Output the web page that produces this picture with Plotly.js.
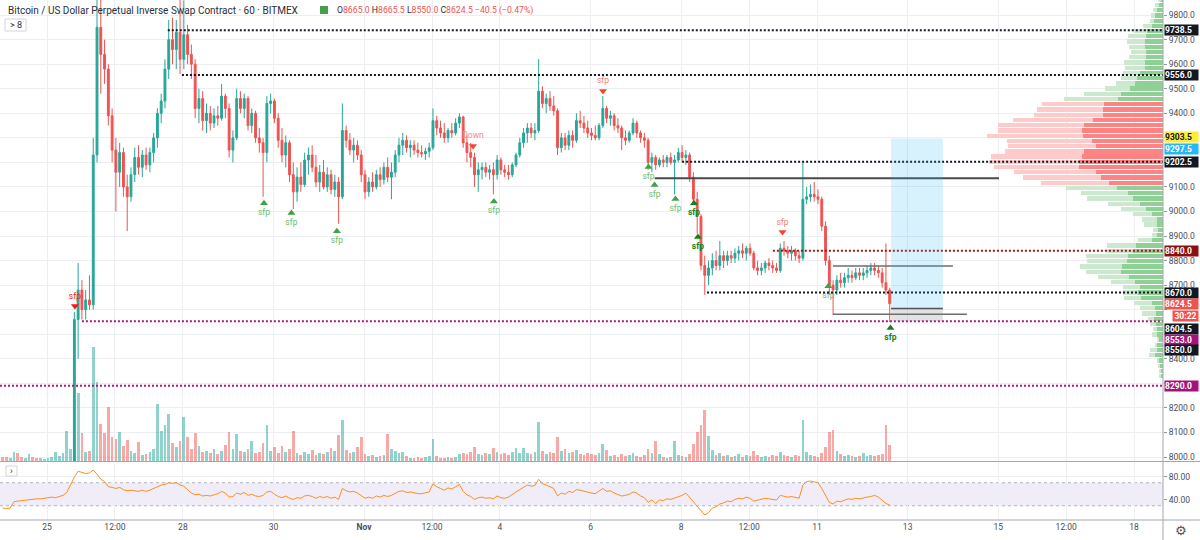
<!DOCTYPE html>
<html>
<head>
<meta charset="utf-8">
<script src="https://cdn.plot.ly/plotly-3.0.1.min.js"></script>
<style>
html,body{margin:0;padding:0;background:#ffffff;overflow:hidden;}
#chart{width:1200px;height:540px;}
</style>
</head>
<body>
<div id="chart"></div>
<script>
// ================= DATA =================
const SERIES_START = '2019-10-24T00:00:00Z';
const BAR_HOURS = 2;

const opens = [
7470,7460,7430,7450,7470,7420,7390,7410,7430,7420,7400,7410,7420,7440,7450,7460,7470,7500,7540,7650,
8560,8680,8600,8640,8620,9230,9750,9640,9580,9390,
9250,9160,9240,9100,9060,9150,9220,9180,9230,9190,
9240,9300,9400,9450,9580,9700,9660,9730,9620,9720,
9640,9600,9420,9460,9370,9400,9360,9390,9380,9470,
9420,9250,9300,9460,9420,9460,9350,9400,9300,9280,
9240,9440,9450,9380,9290,9230,9280,9150,9080,9140,
9110,9210,9230,9180,9120,9160,9100,9150,9090,9120,
9060,9330,9290,9250,9270,9230,9150,9080,9120,9100,
9150,9130,9180,9140,9160,9230,9270,9290,9260,9270,
9250,9240,9235,9245,9260,9370,9340,9320,9300,9330,
9320,9360,9385,9280,9240,9220,9150,9170,9180,9160,
9170,9150,9210,9170,9160,9150,9190,9230,9280,9320,
9340,9320,9330,9490,9440,9460,9430,9410,9260,9300,
9270,9310,9290,9370,9360,9340,9320,9310,9300,9350,
9420,9380,9390,9350,9340,9300,9290,9320,9360,9320,
9300,9290,9200,9220,9190,9210,9200,9220,9200,9210,
9240,9220,9230,9140,9050,8980,8780,8740,8770,8800,
8780,8820,8800,8820,8810,8830,8840,8830,8850,8830,
8770,8760,8770,8790,8780,8770,8760,8850,8840,8830,
8840,8820,8810,9050,9060,9070,9060,9050,8940,8800,
8700,8680,8720,8710,8730,8740,8730,8750,8740,8750,
8760,8770,8760,8750,8710,8680];

const highs = [
7500,7480,7470,7490,7480,7440,7430,7450,7460,7440,7430,7440,7460,7470,7480,7490,7520,7560,7700,8590,
8790,8720,8680,8740,9300,10350,9900,9700,9600,9420,
9300,9280,9260,9150,9180,9260,9270,9250,9260,9260,
9320,9420,9480,9620,9780,9790,9780,9900,9860,9760,
9680,9620,9500,9490,9440,9430,9420,9430,9520,9480,
9440,9330,9500,9490,9480,9470,9420,9410,9340,9300,
9470,9480,9460,9400,9340,9310,9290,9200,9180,9200,
9240,9260,9270,9230,9190,9210,9180,9170,9150,9140,
9440,9350,9320,9300,9290,9250,9170,9140,9160,9170,
9180,9200,9220,9200,9250,9300,9320,9310,9290,9290,
9280,9270,9260,9280,9420,9390,9370,9360,9340,9360,
9380,9400,9390,9310,9280,9240,9200,9200,9200,9190,
9200,9230,9220,9190,9190,9200,9240,9300,9340,9360,
9360,9360,9620,9510,9480,9490,9470,9420,9320,9320,
9330,9330,9400,9410,9390,9370,9340,9350,9360,9470,
9430,9410,9400,9380,9350,9330,9330,9380,9370,9330,
9320,9300,9240,9230,9220,9230,9230,9240,9230,9260,
9270,9250,9240,9160,9080,8990,8820,8800,8830,8840,
8880,8840,8840,8840,8850,8860,8870,8860,8870,8840,
8800,8790,8800,8810,8800,8790,8870,8880,8860,8860,
8850,8840,9200,9100,9110,9120,9090,9060,8960,8820,
8720,8740,8750,8750,8770,8760,8770,8770,8770,8780,
8790,8790,8780,8770,8870,8690];

const lows = [
7440,7420,7410,7430,7400,7360,7370,7390,7400,7380,7380,7390,7400,7420,7430,7440,7450,7480,7520,7640,
8400,8560,8560,8600,8600,9200,9480,9520,9350,9200,
9000,9100,9060,8920,9040,9120,9150,9140,9170,9160,
9200,9260,9360,9420,9540,9600,9580,9560,9580,9600,
9540,9380,9360,9330,9320,9330,9340,9350,9370,9380,
9220,9200,9290,9400,9380,9330,9320,9280,9240,9060,
9200,9400,9360,9260,9200,9180,9120,9010,9040,9080,
9100,9150,9160,9100,9080,9090,9080,9070,9060,8950,
9050,9260,9230,9200,9210,9120,9050,9060,9080,9090,
9100,9110,9120,9050,9140,9200,9230,9240,9220,9230,
9220,9220,9210,9220,9250,9310,9300,9280,9280,9300,
9310,9340,9260,9200,9180,9100,9080,9130,9140,9130,
9070,9130,9150,9140,9130,9140,9180,9220,9260,9280,
9300,9290,9320,9420,9400,9410,9390,9230,9240,9250,
9250,9260,9280,9340,9320,9300,9290,9290,9290,9340,
9360,9350,9330,9320,9250,9270,9280,9310,9300,9280,
9260,9170,9160,9170,9180,9180,9180,9190,9070,9200,
9200,9190,9120,9040,8910,8760,8660,8700,8740,8760,
8760,8770,8780,8790,8790,8800,8810,8800,8820,8760,
8740,8740,8750,8760,8750,8750,8750,8820,8810,8800,
8800,8790,8800,9030,9040,9040,9030,8920,8780,8660,
8580,8660,8690,8690,8710,8710,8720,8720,8720,8730,
8740,8740,8730,8690,8660,8550];

const closes = [
7460,7430,7450,7470,7420,7390,7410,7430,7420,7400,7410,7420,7440,7450,7460,7470,7500,7540,7650,8560,
8680,8600,8640,8620,9230,9750,9640,9580,9390,9250,
9160,9240,9100,9060,9150,9220,9180,9230,9190,9240,
9300,9400,9450,9580,9700,9660,9730,9620,9720,9640,
9600,9420,9460,9370,9400,9360,9390,9380,9470,9420,
9250,9300,9460,9420,9460,9350,9400,9300,9280,9240,
9440,9450,9380,9290,9230,9280,9150,9080,9140,9110,
9210,9230,9180,9120,9160,9100,9150,9090,9120,9060,
9330,9290,9250,9270,9230,9150,9080,9120,9100,9150,
9130,9180,9140,9160,9230,9270,9290,9260,9270,9250,
9240,9235,9245,9260,9370,9340,9320,9300,9330,9320,
9360,9385,9280,9240,9220,9150,9170,9180,9160,9170,
9150,9210,9170,9160,9150,9190,9230,9280,9320,9340,
9320,9330,9490,9440,9460,9430,9410,9260,9300,9270,
9310,9290,9370,9360,9340,9320,9310,9300,9350,9420,
9380,9390,9350,9340,9300,9290,9320,9360,9320,9300,
9290,9200,9220,9190,9210,9200,9220,9200,9210,9240,
9220,9230,9140,9050,8980,8780,8740,8770,8800,8780,
8820,8800,8820,8810,8830,8840,8830,8850,8830,8770,
8760,8770,8790,8780,8770,8760,8850,8840,8830,8840,
8820,8810,9050,9060,9070,9060,9050,8940,8800,8700,
8680,8720,8710,8730,8740,8730,8750,8740,8750,8760,
8770,8760,8750,8710,8680,8624.5];

// volume, x10M contracts
const volumes = [
4,4,3,9,8,4,3,7,4,3,3,2,3,4,9,5,8,30,12,14,
68,28,9,10,114,79,37,28,54,24,
22,29,15,21,10,8,19,6,7,9,
12,57,30,36,47,18,14,20,44,24,
12,28,15,9,10,8,12,7,10,16,
29,12,27,10,9,12,20,8,9,18,
36,10,14,8,15,9,12,30,8,6,
9,7,11,6,8,7,9,13,10,26,
41,11,8,9,14,24,7,5,6,4,
5,6,27,12,10,8,9,5,3,3,
4,3,4,5,22,5,3,3,4,3,
4,7,8,7,9,14,7,6,8,7,
13,9,7,8,6,9,13,8,13,8,
7,9,39,10,7,9,8,24,10,12,
8,9,11,7,6,8,7,6,8,17,
11,5,6,4,7,5,6,8,5,4,
6,12,8,20,7,4,3,4,20,6,
5,4,7,17,29,36,51,25,11,6,
8,5,6,4,5,7,4,6,5,10,
6,4,5,4,6,5,9,6,5,4,
6,5,41,9,6,5,4,8,14,29,
31,10,7,5,6,5,4,5,8,5,
6,5,6,7,36,16];

const rsi = [
26,25,26,37,38,39,40,41,41,42,42,43,44,45,44,46,48,53,68,80,
90,88,86,87,92,85,76,72,63,62,
60,62,58,56,57,56,55,57,55,57,
60,63,66,67,70,69,70,66,64,58,
52,49,50,47,48,47,49,51,55,52,
45,46,52,50,53,48,50,47,46,48,
54,55,50,46,44,47,43,41,44,43,
47,48,46,43,46,44,46,43,45,41,
60,56,54,55,52,47,43,45,43,47,
45,48,46,48,52,55,56,53,54,52,
51,51,52,54,68,63,60,57,61,59,
63,67,55,49,46,41,44,45,43,44,
42,47,44,43,45,50,54,58,62,66,
64,65,76,68,66,63,60,47,52,50,
55,53,58,57,55,53,52,51,55,60,
55,56,52,50,47,48,50,54,52,47,
44,36,40,34,40,39,42,41,43,46,
48,52,44,36,30,22,14,18,26,28,
33,35,38,37,41,43,42,45,43,38,
40,41,43,42,41,40,48,47,45,46,
44,43,66,72,73,72,70,60,48,36,
33,38,37,40,42,41,43,42,44,45,
46,48,45,40,34,31];

// visible-range volume profile (rows from top)
const VP_TOP_ROW = 9862.6;
const VP_ROW = 21.3;
const vpTotal = [5,8,10,12,13,20,29,35,36,34,32,34,39,38,40,42,47,58,79,99,
121,126,129,150,165,165,176,156,155,158,172,174,169,149,140,122,
97,82,76,55,42,30,21,19,10,11,25,56,57,77,76,83,77,65,52,40,40,39,29,23,21,15,13,10,11,6,8,13,14,6,5,4,4];
const vpUp = [2,4,6,8,9,11,16,17,18,18,17,17,18,18,23,26,28,33,42,45,
59,60,60,70,79,81,80,71,67,79,81,84,84,67,62,54,
46,35,30,23,17,11,6,6,5,6,11,27,30,35,36,41,42,34,28,23,25,22,11,8,7,9,7,6,6,4,6,6,8,4,3,2,2];
const VALUE_AREA = [9106, 9448];

const tickDates = ['2019-10-25','2019-10-26 12:00','2019-10-28','2019-10-30','2019-11-01','2019-11-02 12:00','2019-11-04','2019-11-06','2019-11-08','2019-11-09 12:00','2019-11-11','2019-11-13','2019-11-15','2019-11-16 12:00','2019-11-18'];
const tickLabels = ['25','12:00','28','30','<b>Nov</b>','12:00','4','6','8','12:00','11','13','15','12:00','18'];
const priceTicks = [8000,8100,8200,8300,8400,8500,8600,8700,8800,8900,9000,9100,9200,9300,9400,9500,9600,9700,9800];
// scale ticks whose text sits under a price label box
const coveredTicks = [8300,8500,8600,9200,9300];

// horizontal levels
const levelPrices = [9738.5, 9556.0, 9202.5, 8840.0, 8670.0, 8553.0, 8290.0];
const levelStarts = ['2019-10-27 16:00','2019-10-27 23:30','2019-11-08 00:30','2019-11-10 00:36','2019-11-08 13:42','2019-10-25 18:30','2019-10-23 23:06'];
const levelKinds  = ['black','black','black','red','black','magenta','magenta'];
const segPrices = [9135, 8778, 8581];
const segStarts = ['2019-11-07 10:00','2019-11-11 08:24','2019-11-11 08:24'];
const segEnds   = ['2019-11-15 00:24','2019-11-14 00:00','2019-11-14 07:24'];
// long position tool
const posEntry = 8604.5, posStop = 8553.0, posTarget = 9297.5;
const posStart = '2019-11-12 15:12', posEnd = '2019-11-13 18:42';

// sfp signals
const sfpTimes = ['2019-10-25 14:48','2019-10-29 18:58','2019-10-30 09:30','2019-10-31 09:36','2019-11-03 09:42','2019-11-03 20:48','2019-11-06 06:36','2019-11-07 06:42','2019-11-07 09:54','2019-11-07 21:00','2019-11-08 06:48','2019-11-08 08:54','2019-11-10 05:42','2019-11-11 06:00','2019-11-12 14:54'];
const sfpPrices = [8615,9034,8994,8920,9267,9041,9491,9181,9108,9051,9034,8896,8916,8696,8525];
const sfpKinds = ['bearStrong','bull','bull','bull','down','bull','bear','bull','bull','bull','bullStrong','bullStrong','bear','bull','bullStrong'];

// right-scale labels
const lblPrices = [9738.5, 9556.0, 9303.5, 9297.5, 9202.5, 8840.0, 8670.0, 8624.5, 8604.5, 8553.0, 8550.0, 8290.0];
const lblBg     = ['#131722','#131722','#ffeb3b','#29b6f6','#131722','#8b0f0f','#131722','#ef5350','#131722','#a3137a','#131722','#a3137a'];
const lblFg     = ['#fff','#fff','#131722','#fff','#fff','#fff','#fff','#fff','#fff','#fff','#fff','#fff'];
const lblShift  = [0,0,0,-10.5,0,0,0,0,-20.5,-19,-28,0];
const countdown = '30:22';
const lastBar = {o:8665.0, h:8665.5, l:8550.0, c:8624.5};

// ================= BUILD =================
const UP = '#26a69a', DN = '#ef5350';
const GRID = '#eceef2';
const t0 = Date.parse(SERIES_START);
function fmt(ms){ return new Date(ms).toISOString().slice(0,19).replace('T',' '); }
const times = closes.map((_, k) => fmt(t0 + (k*BAR_HOURS + 0.5)*3600000));
const X_START = '2019-10-23 23:06', X_END = '2019-11-18 15:18';

const W = 1163, H = 520;               // plot area in px
const px = x => x / W;
const py = y => (H - y) / H;
const MAIN_BOTTOM = py(461), RSI_TOP = py(463);

const traces = [];
traces.push({
  type:'candlestick', x:times, open:opens, high:highs, low:lows, close:closes,
  xaxis:'x', yaxis:'y', whiskerwidth:0, hoverinfo:'skip',
  increasing:{line:{color:UP,width:1}, fillcolor:UP},
  decreasing:{line:{color:DN,width:1}, fillcolor:DN}
});
traces.push({
  type:'bar', x:times, y:volumes, xaxis:'x', yaxis:'y2', hoverinfo:'skip',
  width: BAR_HOURS*3600000*0.72,
  marker:{color: closes.map((c,k)=> c>=opens[k] ? 'rgba(38,166,154,0.5)' : 'rgba(239,83,80,0.5)'), line:{width:0}}
});
traces.push({
  type:'scatter', mode:'lines', x:times, y:rsi, xaxis:'x', yaxis:'y3', hoverinfo:'skip',
  line:{color:'#ff8f1f', width:1}
});
// volume profile
const vpRows = vpTotal.map((_, n) => VP_TOP_ROW - n*VP_ROW);
const inVA = p => p >= VALUE_AREA[0] && p <= VALUE_AREA[1];
traces.push({
  type:'bar', orientation:'h', x:vpTotal, y:vpRows, xaxis:'x3', yaxis:'y', width:VP_ROW*0.82,
  hoverinfo:'skip', marker:{color: vpRows.map(p => inVA(p) ? '#ffcaca' : '#cce8ce'), line:{width:0}}
});
traces.push({
  type:'bar', orientation:'h', x:vpUp, y:vpRows, xaxis:'x3', yaxis:'y', width:VP_ROW*0.82,
  hoverinfo:'skip', marker:{color: vpRows.map(p => inVA(p) ? '#ff8383' : '#8fd095'), line:{width:0}}
});
// sfp markers
const sfpStyle = {
  bull:       {sym:'triangle-up',   mc:'#43a047', tc:'#6dbb70', pos:'bottom center', txt:'sfp', w:'normal'},
  bullStrong: {sym:'triangle-up',   mc:'#14821a', tc:'#14821a', pos:'bottom center', txt:'sfp', w:'bold'},
  bear:       {sym:'triangle-down', mc:'#f44336', tc:'#f08080', pos:'top center',    txt:'sfp', w:'normal'},
  bearStrong: {sym:'triangle-down', mc:'#ff1111', tc:'#ff1111', pos:'top center',    txt:'sfp', w:'normal'},
  down:       {sym:'triangle-down', mc:'#f44336', tc:'#f08c88', pos:'top center',    txt:'Down', w:'normal'}
};
Object.keys(sfpStyle).forEach(kind => {
  const idx = sfpKinds.map((k,i)=>k===kind?i:-1).filter(i=>i>=0);
  if (!idx.length) return;
  const s = sfpStyle[kind];
  traces.push({
    type:'scatter', mode:'markers+text', xaxis:'x', yaxis:'y', hoverinfo:'skip',
    x: idx.map(i=>sfpTimes[i]), y: idx.map(i=>sfpPrices[i]),
    text: idx.map(()=>s.txt), textposition:s.pos,
    textfont:{size:8.5, color:s.tc, weight:s.w},
    marker:{symbol:s.sym, size:7, color:s.mc, line:{width:0}},
    cliponaxis:false
  });
});

// shapes
const shapes = [];
shapes.push({type:'rect', xref:'paper', yref:'y3', x0:0, x1:1, y0:30, y1:70, fillcolor:'rgba(149,117,205,0.14)', line:{width:0}, layer:'below'});
[70,30].forEach(v => shapes.push({type:'line', xref:'paper', yref:'y3', x0:0, x1:1, y0:v, y1:v, line:{color:'#b2b5be', width:1, dash:'3px,3px'}, layer:'below'}));
const levelColor = {black:'#131722', red:'#a31515', magenta:'#b0187d'};
levelPrices.forEach((p,i) => shapes.push({type:'line', xref:'x', yref:'y', x0:levelStarts[i], x1:X_END, y0:p, y1:p,
  line:{color:levelColor[levelKinds[i]], width:2, dash:'2px,2px'}, layer:'above'}));
segPrices.forEach((p,i) => shapes.push({type:'line', xref:'x', yref:'y', x0:segStarts[i], x1:segEnds[i], y0:p, y1:p,
  line:{color: i===0 ? '#4a4a4a' : '#6d6d6d', width: i===0 ? 2 : 1.5}, layer:'above'}));
shapes.push({type:'rect', xref:'x', yref:'y', x0:posStart, x1:posEnd, y0:posEntry, y1:posTarget, fillcolor:'rgba(41,182,246,0.18)', line:{width:0}, layer:'above'});
shapes.push({type:'rect', xref:'x', yref:'y', x0:posStart, x1:posEnd, y0:posStop, y1:posEntry, fillcolor:'rgba(120,123,134,0.22)', line:{width:0}, layer:'above'});
shapes.push({type:'line', xref:'x', yref:'y', x0:posStart, x1:posEnd, y0:posEntry, y1:posEntry, line:{color:'#555', width:1.5}, layer:'above'});
// frame
const FR = '#a3a6af';
shapes.push({type:'line', xref:'paper', yref:'paper', x0:1, x1:1, y0:py(540), y1:1, line:{color:FR, width:1}});
shapes.push({type:'line', xref:'paper', yref:'paper', x0:0, x1:px(1200), y0:py(461.5), y1:py(461.5), line:{color:FR, width:1}});
shapes.push({type:'line', xref:'paper', yref:'paper', x0:0, x1:px(1200), y0:0, y1:0, line:{color:FR, width:1}});
// small ui boxes
shapes.push({type:'rect', xref:'paper', yref:'paper', x0:px(5), x1:px(26), y0:py(31), y1:py(19), fillcolor:'#fff', line:{color:'#d1d4dc', width:1}});
shapes.push({type:'rect', xref:'paper', yref:'paper', x0:px(6), x1:px(17), y0:py(476), y1:py(466), fillcolor:'#fff', line:{color:'#d1d4dc', width:1}});
shapes.push({type:'rect', xref:'paper', yref:'paper', x0:px(320), x1:px(328), y0:py(14), y1:py(6), fillcolor:'#43a047', line:{width:0}});

// annotations
const ann = [];
ann.push({xref:'paper', yref:'paper', x:px(6), y:py(10), xanchor:'left', yanchor:'middle', showarrow:false,
  text:'Bitcoin / US Dollar Perpetual Inverse Swap Contract · 60 · BITMEX', font:{size:10, color:'#2a2e39'}});
const chg = lastBar.c - lastBar.o, pct = chg / lastBar.o * 100;
const red = v => '<span style="color:#ef5350">' + v + '</span>';
const fmtS = v => (v<0?'\u2212':'+') + Math.abs(v).toFixed(1);
ann.push({xref:'paper', yref:'paper', x:px(335), y:py(10), xanchor:'left', yanchor:'middle', showarrow:false,
  text:'O' + red(lastBar.o.toFixed(1)) + ' H' + red(lastBar.h.toFixed(1)) + ' L' + red(lastBar.l.toFixed(1)) + ' C' + red(lastBar.c.toFixed(1)) + ' ' + red(fmtS(chg) + ' (' + (pct<0?'\u2212':'+') + Math.abs(pct).toFixed(2) + '%)'),
  font:{size:8.7, color:'#2a2e39'}});
ann.push({xref:'paper', yref:'paper', x:px(15.5), y:py(25), xanchor:'center', yanchor:'middle', showarrow:false, text:'&gt; 8', font:{size:9, color:'#2a2e39'}});
ann.push({xref:'paper', yref:'paper', x:px(11.5), y:py(471), xanchor:'center', yanchor:'middle', showarrow:false, text:'›', font:{size:9, color:'#2a2e39'}});
ann.push({xref:'paper', yref:'paper', x:px(1181), y:py(530), xanchor:'center', yanchor:'middle', showarrow:false, text:'\u2699', font:{size:13, color:'#50535e', family:'DejaVu Sans'}});
lblPrices.forEach((p,i) => ann.push({xref:'paper', yref:'y', x:1, xshift:1, y:p, yshift:lblShift[i], xanchor:'left', yanchor:'middle',
  showarrow:false, text:p.toFixed(1), bgcolor:lblBg[i], width:33, height:9.5, align:'left', borderpad:0,
  font:{size:8.5, color:lblFg[i], weight:'bold'}}));
ann.push({xref:'paper', yref:'y', x:1, xshift:9, y:lastBar.c, yshift:-12.5, xanchor:'left', yanchor:'middle',
  showarrow:false, text:countdown, bgcolor:'#ef5350', width:25, height:9.5, align:'center', borderpad:0,
  font:{size:8.5, color:'#fff', weight:'bold'}});

const layout = {
  width:1200, height:540,
  margin:{l:0, r:37, t:0, b:20, pad:0},
  paper_bgcolor:'#ffffff', plot_bgcolor:'#ffffff',
  showlegend:false, barmode:'overlay', bargap:0,
  font:{family:'Roboto, "Liberation Sans", sans-serif', size:8.5, color:'#4a4e59'},
  xaxis:{type:'date', range:[X_START, X_END], domain:[0,1], anchor:'y3',
    tickvals:tickDates, ticktext:tickLabels, ticks:'', showgrid:true, gridcolor:GRID, gridwidth:1,
    zeroline:false, showline:false, rangeslider:{visible:false}, fixedrange:true,
    tickfont:{size:8.5, color:'#4a4e59'}},
  xaxis3:{overlaying:'x', anchor:'y', range:[W, 0], visible:false, showgrid:false, zeroline:false, fixedrange:true},
  yaxis:{domain:[MAIN_BOTTOM, 1], range:[7983.7, 9861.5], side:'right',
    tickvals:priceTicks, ticktext:priceTicks.map(v=> coveredTicks.includes(v) ? '' : v.toFixed(1)), showgrid:true, gridcolor:GRID,
    zeroline:false, showline:false, ticks:'outside', ticklen:3, tickcolor:'#9598a1', fixedrange:true,
    tickfont:{size:8.5, color:'#4a4e59'}},
  yaxis2:{overlaying:'y', range:[0, 461], visible:false, fixedrange:true},
  yaxis3:{domain:[0, RSI_TOP], range:[5.2, 104.3], side:'right', tickvals:[40,80], ticktext:['40.00','80.00'],
    showgrid:true, gridcolor:GRID, zeroline:false, showline:false, ticks:'outside', ticklen:3, tickcolor:'#9598a1',
    fixedrange:true, tickfont:{size:8.5, color:'#4a4e59'}},
  shapes:shapes, annotations:ann
};

Plotly.newPlot('chart', traces, layout, {staticPlot:true, displayModeBar:false});
</script>
</body>
</html>
